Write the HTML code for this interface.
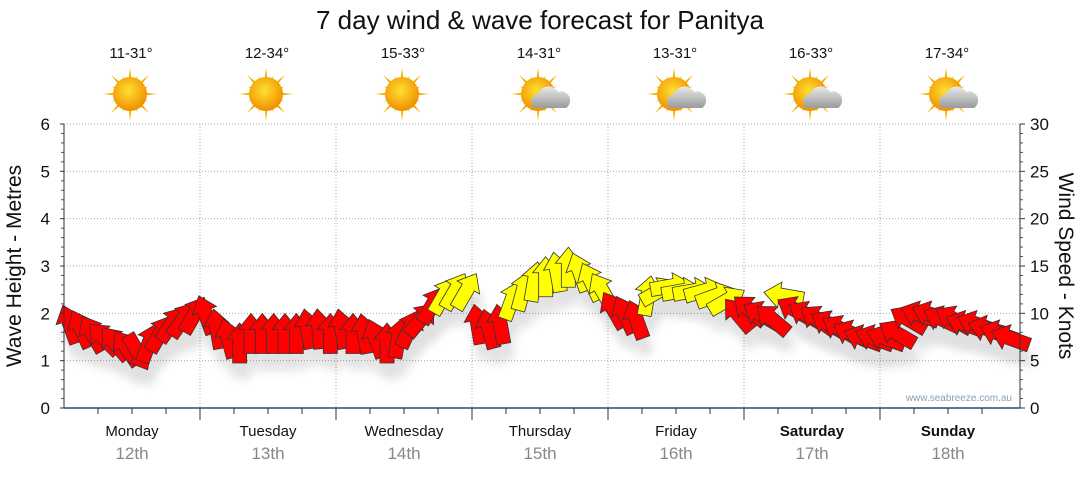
<!DOCTYPE html>
<html><head><meta charset="utf-8"><style>
body{margin:0;background:#fff;font-family:"Liberation Sans",sans-serif}
</style></head><body>
<svg id="c" width="1080" height="475" viewBox="0 0 1080 475" xmlns="http://www.w3.org/2000/svg" font-family="Liberation Sans, sans-serif">
<defs>
<radialGradient id="sunG" cx="45%" cy="40%" r="60%"><stop offset="0" stop-color="#ffe030"/><stop offset="1" stop-color="#f09000"/></radialGradient>
<linearGradient id="cloudG" x1="0" y1="0" x2="0" y2="1"><stop offset="0" stop-color="#e8e8e8"/><stop offset="1" stop-color="#9a9a9a"/></linearGradient>
<filter id="sh" x="-50%" y="-50%" width="200%" height="200%"><feGaussianBlur stdDeviation="5"/></filter>
</defs>
<text x="540" y="29" text-anchor="middle" font-size="26" fill="#111">7 day wind &amp; wave forecast for Panitya</text>
<g id="grid"></g><g id="icons"></g><g id="shadows" opacity="0.12"></g><g id="arrows"></g><g id="axes"></g>
<text x="1012" y="401" text-anchor="end" font-size="10" fill="#8aa0b8">www.seabreeze.com.au</text>
<text transform="translate(21,266) rotate(-90)" text-anchor="middle" font-size="21" fill="#111">Wave Height - Metres</text>
<text transform="translate(1059,266) rotate(90)" text-anchor="middle" font-size="21" fill="#111">Wind Speed - Knots</text>
</svg>
<script>
const days=["Monday","Tuesday","Wednesday","Thursday","Friday","Saturday","Sunday"];
const dates=["12th","13th","14th","15th","16th","17th","18th"];
const temps=["11-31°","12-34°","15-33°","14-31°","13-31°","16-33°","17-34°"];
const icons=["sun","sun","sun","cloud","cloud","cloud","cloud"];
const waveTicks=[0,1,2,3,4,5,6];
const windTicks=[0,5,10,15,20,25,30];
const windSpeed=[9.5,9,8.5,8,7.5,7,6.5,7.5,8.5,9.5,10,10.5,
10.5,9,8,7.5,8.5,8.5,8.5,8.5,8.5,9,9,8.5,
9,8.5,8.5,8,7.5,8,9,10,11.5,12.5,13,13,
9.5,9,9.5,12,13,14,14.5,15,15.5,15,14,13,
11,10.5,10,12.5,13,13.5,13,13,13,12.5,12,10.5,
11,10.5,10,12.5,11,10.5,10,9.5,9,8.5,8,8,
8,8.5,10,10.5,10.5,10,10,9.5,9.5,9,8.5,8];
const windDir=[-20,-25,-30,-45,-40,-35,150,20,30,35,35,30,
-20,-10,-15,0,0,0,0,0,0,-10,-5,0,
-10,0,-10,-20,0,10,25,40,30,30,30,30,
-10,-15,-10,20,15,10,0,-10,0,-20,-25,-30,
-30,-25,-20,10,60,80,80,80,75,70,60,-40,
-50,-60,-50,-80,-60,-60,-55,-60,-60,-65,-70,-70,
-70,-60,-60,-70,-70,-65,-60,-70,-70,-75,-70,-70];
const NS="http://www.w3.org/2000/svg";
const X0=64,DW=136,Y0=408,Y1=124,PER=12;
const xDay=d=>X0+d*DW;
const yWave=v=>Y0-(v/6)*(Y0-Y1);
const yWind=k=>Y0-(k/30)*(Y0-Y1);
const xStep=i=>X0+(i+0.5)*DW/PER;
function mk(tag,at,parent){const e=document.createElementNS(NS,tag);for(const k in at)e.setAttribute(k,at[k]);parent.appendChild(e);return e;}
const grid=document.getElementById('grid'),axes=document.getElementById('axes'),ic=document.getElementById('icons'),ar=document.getElementById('arrows'),sh=document.getElementById('shadows');
waveTicks.forEach(v=>{if(v>0){const l=mk('line',{x1:X0,x2:1020,y1:yWave(v),y2:yWave(v),stroke:'#aaa','stroke-dasharray':'1,2'},grid);}
const t=mk('text',{x:50,y:yWave(v)+6,'text-anchor':'end','font-size':17,fill:'#111'},axes);t.textContent=v;
mk('line',{x1:X0-4,x2:X0,y1:yWave(v),y2:yWave(v),stroke:'#333'},axes);
if(v<6)for(let m=1;m<5;m++)mk('line',{x1:X0-3,x2:X0,y1:yWave(v+m/5),y2:yWave(v+m/5),stroke:'#555'},axes);});
windTicks.forEach(k=>{const t=mk('text',{x:1030,y:yWind(k)+6,'font-size':17,fill:'#111'},axes);t.textContent=k;
mk('line',{x1:1020,x2:1025,y1:yWind(k),y2:yWind(k),stroke:'#333'},axes);
if(k<30)for(let m=1;m<5;m++)mk('line',{x1:1020,x2:1023,y1:yWind(k+m),y2:yWind(k+m),stroke:'#555'},axes);});
mk('line',{x1:X0,x2:X0,y1:Y1,y2:Y0,stroke:'#333'},axes);
mk('line',{x1:1020,x2:1020,y1:Y1,y2:Y0,stroke:'#333'},axes);
mk('line',{x1:X0,x2:1020,y1:Y0,y2:Y0,stroke:'#1f4e79','stroke-width':1.5},axes);
days.forEach((d,i)=>{
 if(i>0){const l=mk('line',{x1:xDay(i),x2:xDay(i),y1:Y1,y2:Y0,stroke:'#aaa','stroke-dasharray':'1,2'},grid);
  mk('line',{x1:xDay(i),x2:xDay(i),y1:Y0,y2:Y0+12,stroke:'#333'},axes);}
 for(let q=1;q<4;q++)mk('line',{x1:xDay(i)+q*DW/4,x2:xDay(i)+q*DW/4,y1:Y0,y2:Y0+6,stroke:'#333'},axes);
 const cx=xDay(i)+DW/2;
 const t=mk('text',{x:cx,y:436,'text-anchor':'middle','font-size':15,fill:'#111','font-weight':i>=5?'bold':'normal'},axes);t.textContent=d;
 const t2=mk('text',{x:cx,y:459,'text-anchor':'middle','font-size':17,fill:'#888'},axes);t2.textContent=dates[i];
 const t3=mk('text',{x:cx-1,y:58,'text-anchor':'middle','font-size':15,fill:'#111'},ic);t3.textContent=temps[i];
 const g=mk('g',{transform:`translate(${cx-2},94)`},ic);
 for(let r=0;r<16;r++){const a=r*22.5,L=r%2?20:27;mk('polygon',{points:`-3,0 0,-${L} 3,0`,fill:'#f0b000',transform:`rotate(${a})`},g);}
 mk('circle',{r:17,fill:'url(#sunG)'},g);
 if(icons[i]==='cloud'){mk('path',{d:'M-4,14 a8,8 0 0 1 4,-14 a11,11 0 0 1 20,-2 a9,9 0 0 1 8,16 z',fill:'url(#cloudG)'},g);}
});
const arrowPts="0,-20 13,-4 7,-4 7,20 -7,20 -7,-4 -13,-4";
windSpeed.forEach((k,i)=>{
 const x=xStep(i),y=yWind(k)+6,col=k>=12?'#ffff00':'#ff0000';
 mk('polygon',{points:arrowPts,fill:'#000',filter:'url(#sh)',transform:`translate(${x+4},${y+16}) rotate(${windDir[i]})`},sh);
 const p=mk('polygon',{points:arrowPts,fill:col,stroke:'#333','stroke-width':0.8,transform:`translate(${x},${y}) rotate(${windDir[i]})`},ar);
 
 
});
</script>
</body></html>
